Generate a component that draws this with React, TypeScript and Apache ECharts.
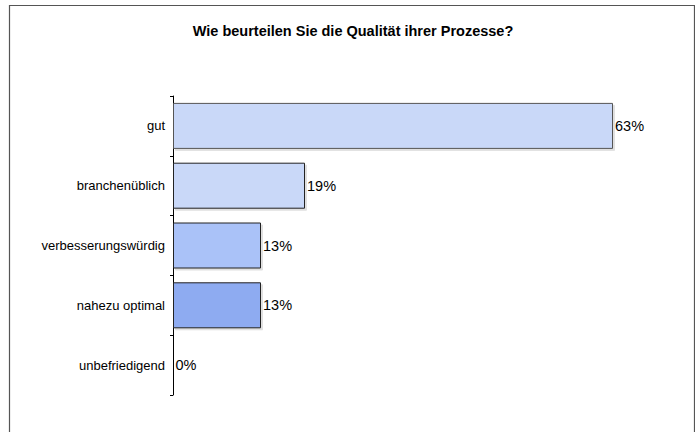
import React, { useEffect, useRef } from "react";
import * as echarts from "echarts";

const categories = ["gut", "branchenüblich", "verbesserungswürdig", "nahezu optimal", "unbefriedigend"];
const values = [62.5, 18.75, 12.5, 12.5, 0];
const barColors = ["#c9d8f8", "#c9d8f8", "#aac2f8", "#8eabf1", "#8eabf1"];
const titleText = "Wie beurteilen Sie die Qualität ihrer Prozesse?";

export default function App() {
  const ref = useRef<HTMLDivElement>(null);
  useEffect(() => {
    if (!ref.current) return;
    const chart = echarts.init(ref.current, undefined, { renderer: "svg" });
    const font = "'Liberation Sans', Arial, sans-serif";
    chart.setOption({
      animation: false,
      backgroundColor: "#ffffff",
      textStyle: { fontFamily: font },
      graphic: [
        {
          type: "rect",
          shape: { x: 9.5, y: 5.5, width: 685, height: 450 },
          style: { fill: "none", stroke: "#555555", lineWidth: 1.2 },
          silent: true,
        },
        {
          type: "text",
          x: 353,
          y: 31,
          style: {
            text: titleText,
            fontFamily: font,
            fontWeight: "bold",
            fontSize: 14.5,
            fill: "#000000",
            textAlign: "center",
            textVerticalAlign: "middle",
          },
        },
      ],
      grid: { left: 173, top: 96, width: 492.8, height: 299, containLabel: false },
      xAxis: {
        type: "value",
        min: 0,
        max: 70,
        show: false,
      },
      yAxis: {
        type: "category",
        inverse: true,
        data: categories,
        axisLine: { show: true, lineStyle: { color: "#000000", width: 1 } },
        axisTick: { show: true, length: 3, lineStyle: { color: "#000000" } },
        axisLabel: { margin: 8, color: "#000000", fontSize: 13, fontFamily: font },
        splitLine: { show: false },
      },
      series: [
        {
          type: "bar",
          barWidth: 46,
          data: values.map((v, i) => ({
            value: v,
            itemStyle: {
              color: barColors[i],
              borderColor: i === 0 ? "#555555" : "#222222",
              borderWidth: 1,
              shadowColor: "rgba(0,0,0,0.12)",
              shadowOffsetX: 2,
              shadowOffsetY: 2,
              shadowBlur: 0,
            },
          })),
          label: {
            show: true,
            position: "right",
            distance: 2,
            color: "#000000",
            fontSize: 14.5,
            fontFamily: font,
            formatter: (p: any) => Math.round(p.value) + "%",
          },
        },
      ],
    });
    return () => chart.dispose();
  }, []);
  return (
    <div
      ref={ref}
      style={{ position: "absolute", left: 0, top: 0, width: 695, height: 432 }}
    />
  );
}
